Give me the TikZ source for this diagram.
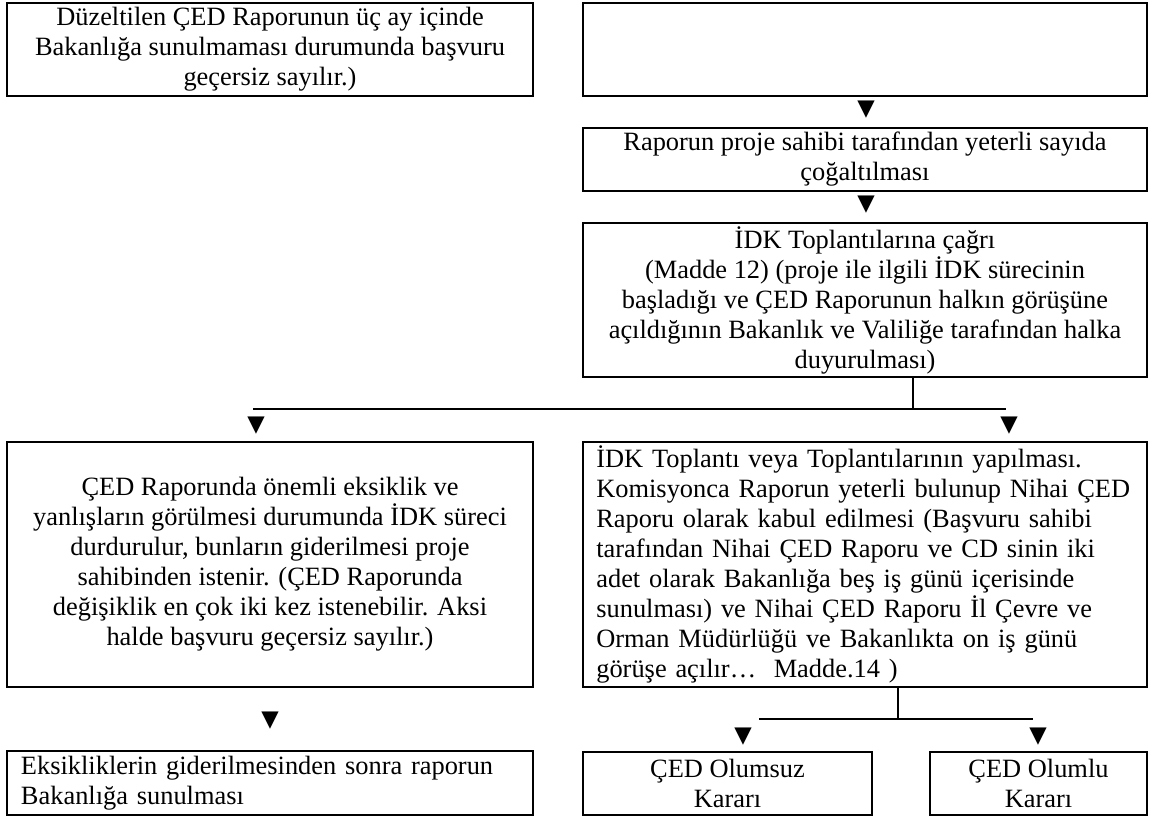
\documentclass[tikz,border=0pt]{standalone}
\usepackage{fontspec}
\setmainfont{Liberation Serif}
\newfontfamily\symfont{DejaVu Sans}
\tikzset{
  kutu/.style={draw, line width=1.5pt, inner sep=0pt, align=center, font=\fontsize{19.8}{22.5}\selectfont},
  kucuk/.style={kutu, line width=1.2pt},
  ok/.style={font=\symfont\fontsize{17}{17}\selectfont, inner sep=0pt},
  hat/.style={line width=1.2pt}
}
\begin{document}
\begin{tikzpicture}[x=0.75pt,y=0.75pt,yscale=-1,xscale=1]
            \useasboundingbox (0,0) rectangle (1152,818);
            % ust sira
            \node[kutu, minimum width=394.5pt, minimum height=69.75pt] (duzelt) at (270,49.5) {Düzeltilen ÇED Raporunun üç ay içinde\\Bakanlığa sunulmaması durumunda başvuru\\geçersiz sayılır.)};
            \node[kutu, minimum width=423pt, minimum height=69.75pt] (bos) at (865,49.5) {};
            \node[ok] (ok1) at (866,110) {▼};
            \node[kutu, minimum width=423pt, minimum height=47.25pt] (cogalt) at (865,159.5) {Raporun proje sahibi tarafından yeterli sayıda\\çoğaltılması};
            \node[ok] (ok2) at (866,204.5) {▼};
            \node[kutu, minimum width=423pt, minimum height=115.5pt] (cagri) at (865,300) {İDK Toplantılarına çağrı\\(Madde 12) (proje ile ilgili İDK sürecinin\\başladığı ve ÇED Raporunun halkın görüşüne\\açıldığının Bakanlık ve Valiliğe tarafından halka\\duyurulması)};
            % ayrilma
            \coordinate (catal1) at (913,409);
            \coordinate (sol1) at (253,409);
            \coordinate (sag1) at (1006,409);
            \draw[hat] (cagri.south -| catal1) -- (catal1);
            \draw[hat] (sol1) -- (sag1);
            \node[ok] (ok3) at (256,425.5) {▼};
            \node[ok] (ok4) at (1009,425.5) {▼};
            % orta sira
            \node[kutu, minimum width=394.5pt, minimum height=183.75pt] (eksik) at (270,564.5) {ÇED Raporunda önemli eksiklik ve\\yanlışların görülmesi durumunda İDK süreci\\durdurulur, bunların giderilmesi proje\\sahibinden istenir. (ÇED Raporunda\\değişiklik en çok iki kez istenebilir. Aksi\\halde başvuru geçersiz sayılır.)};
            \node[kutu, minimum width=423pt, minimum height=183.75pt, inner xsep=10pt, text width=403pt, align=left] (toplanti) at (865,564.5) {İDK Toplantı veya Toplantılarının yapılması.\\Komisyonca Raporun yeterli bulunup Nihai ÇED\\Raporu olarak kabul edilmesi (Başvuru sahibi\\tarafından Nihai ÇED Raporu ve CD sinin iki\\adet olarak Bakanlığa beş iş günü içerisinde\\sunulması) ve Nihai ÇED Raporu İl Çevre ve\\Orman Müdürlüğü ve Bakanlıkta on iş günü\\görüşe açılır…~~Madde.14 )};
            \node[ok] (ok5) at (270,721) {▼};
            \coordinate (catal2) at (898,719);
            \coordinate (sol2) at (759,719);
            \coordinate (sag2) at (1033,719);
            \draw[hat] (toplanti.south -| catal2) -- (catal2);
            \draw[hat] (sol2) -- (sag2);
            \node[ok] (ok6) at (743,736.5) {▼};
            \node[ok] (ok7) at (1038,736.5) {▼};
            % alt sira
            \node[kucuk, minimum width=394.5pt, minimum height=48pt, inner xsep=10.5pt, text width=373.5pt, align=left] (sunum) at (270,783) {Eksikliklerin giderilmesinden sonra raporun\\Bakanlığa sunulması};
            \node[kucuk, minimum width=216.75pt, minimum height=47.25pt] (olumsuz) at (727.5,783.5) {ÇED Olumsuz\\Kararı};
            \node[kucuk, minimum width=162.75pt, minimum height=47.25pt] (olumlu) at (1038.5,783.5) {ÇED Olumlu\\Kararı};
        \end{tikzpicture}
\end{document}
